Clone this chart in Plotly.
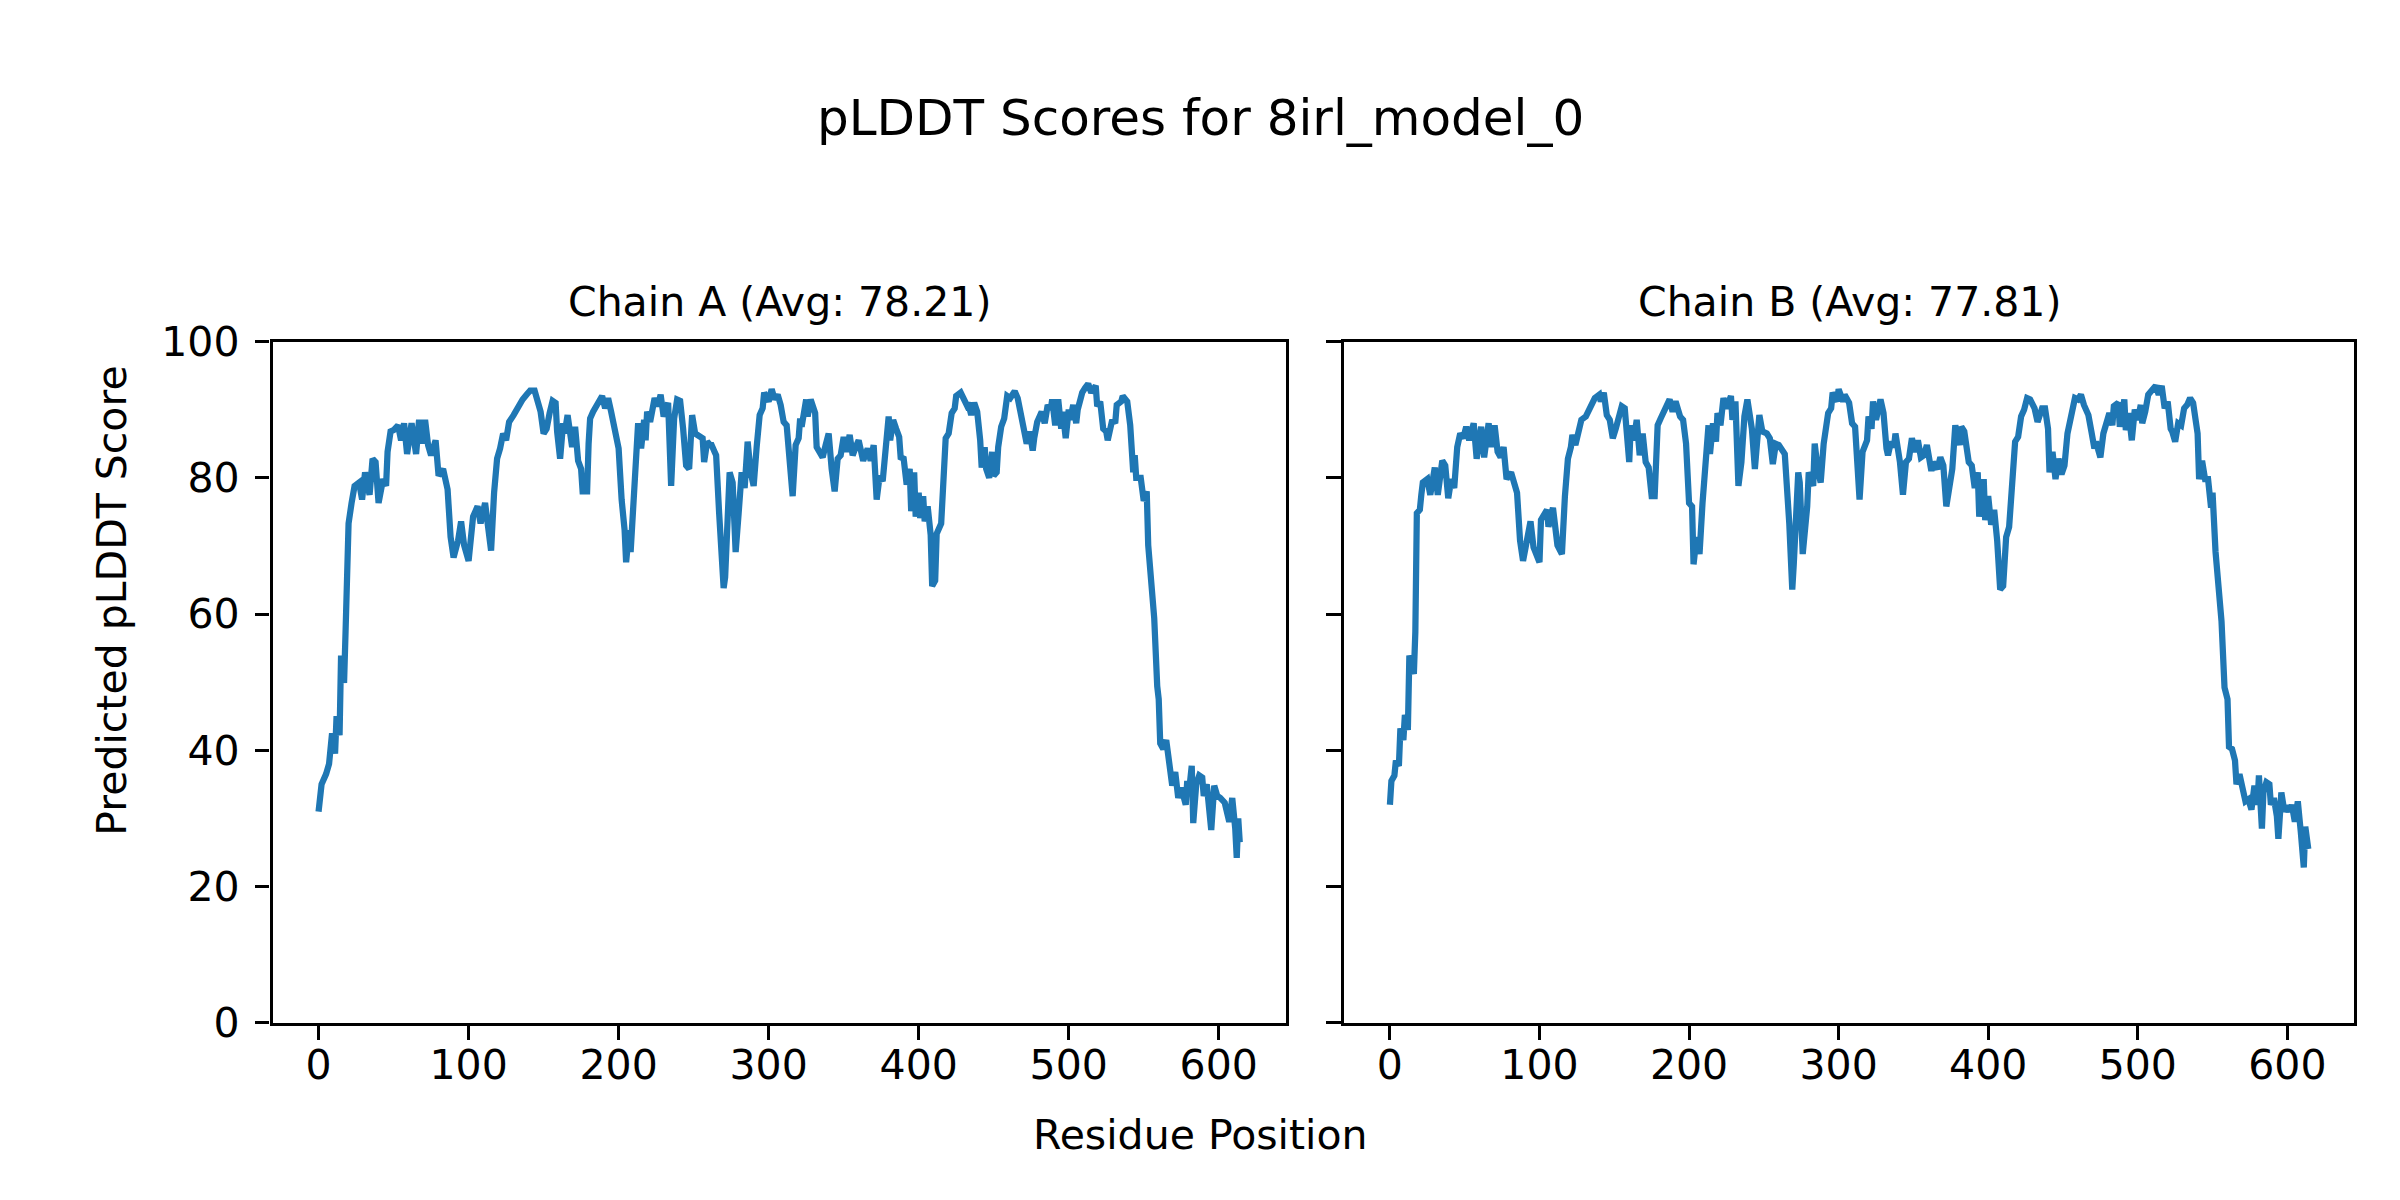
import plotly.graph_objects as go

# ---------------- data ----------------
chain_a_res = [0, 2, 5, 7, 9, 11, 12, 14, 15, 17, 18, 20, 22, 24, 27, 29, 31, 34, 36, 38,
               40, 43, 45, 46, 48, 50, 53, 55, 57, 59, 62, 65, 67, 69, 71, 73, 75, 78, 80, 83,
               86, 88, 90, 93, 95, 97, 100, 103, 106, 108, 111, 114, 115, 117, 119, 121, 123, 125, 127, 130,
               133, 136, 139, 141, 144, 146, 148, 150, 152, 154, 156, 158, 159, 161, 163, 164, 166, 169, 171, 173,
               175, 176, 179, 180, 181, 183, 186, 189, 191, 193, 195, 198, 200, 202, 204, 205, 207, 208, 210, 212,
               213, 215, 217, 218, 219, 221, 224, 226, 228, 230, 233, 235, 237, 239, 241, 243, 245, 247, 249, 251,
               253, 256, 257, 259, 261, 262, 264, 265, 267, 270, 271, 274, 276, 278, 280, 282, 284, 286, 288, 290,
               292, 294, 296, 297, 300, 302, 304, 306, 308, 310, 312, 314, 316, 318, 320, 321, 322, 325, 326, 328,
               331, 332, 334, 336, 338, 340, 342, 344, 346, 348, 350, 352, 354, 356, 358, 360, 363, 366, 368, 370,
               372, 374, 376, 378, 380, 381, 383, 385, 387, 388, 390, 392, 394, 395, 397, 398, 400, 401, 403, 404,
               406, 408, 409, 411, 412, 415, 416, 418, 420, 422, 424, 425, 428, 430, 432, 433, 435, 437, 439, 441,
               442, 444, 445, 447, 449, 450, 452, 453, 455, 457, 459, 461, 464, 466, 468, 470, 472, 474, 476, 477,
               479, 482, 484, 486, 488, 489, 491, 493, 495, 496, 498, 500, 501, 503, 505, 506, 509, 511, 513, 515,
               518, 519, 521, 523, 525, 526, 529, 531, 532, 535, 536, 539, 541, 543, 544, 545, 548, 550, 552, 553,
               555, 557, 559, 560, 561, 563, 565, 567, 569, 571, 573, 575, 578, 579, 580, 582, 583, 585, 587, 589,
               590, 592, 594, 595, 597, 599, 601, 604, 607, 609, 611, 612, 613, 614]
chain_a_plddt = [31.0, 35.0, 36.5, 38.0, 42.5, 39.5, 45.0, 42.2, 53.9, 49.9, 57.4, 73.3, 76.3, 78.8, 79.3, 76.8, 80.8, 77.5, 82.8, 82.3,
                 76.3, 79.8, 78.8, 83.8, 86.8, 87.0, 87.7, 85.5, 88.0, 83.5, 88.0, 83.5, 88.5, 85.0, 88.5, 84.8, 83.3, 85.5, 80.3, 81.3,
                 78.3, 71.3, 68.3, 70.8, 73.6, 70.1, 67.8, 74.3, 75.8, 73.3, 76.3, 70.3, 69.3, 77.8, 82.8, 84.3, 86.5, 85.5, 88.2, 89.2,
                 90.5, 91.5, 92.3, 92.8, 92.8, 91.5, 89.7, 86.5, 87.2, 89.5, 91.3, 91.0, 86.8, 82.8, 88.0, 86.5, 89.2, 84.5, 87.5, 82.5,
                 81.3, 78.0, 78.0, 85.0, 88.7, 89.7, 91.0, 92.0, 90.2, 91.7, 89.7, 85.8, 84.3, 76.8, 72.3, 67.6, 72.3, 69.1, 76.1, 82.8,
                 88.0, 84.3, 88.5, 85.5, 89.7, 88.2, 91.7, 90.5, 92.2, 89.0, 91.0, 78.8, 88.7, 91.5, 91.3, 87.2, 81.8, 81.3, 89.2, 86.5,
                 86.3, 85.8, 82.3, 85.3, 84.8, 84.8, 83.8, 83.3, 74.8, 63.8, 65.4, 80.8, 79.3, 69.1, 74.8, 80.8, 78.5, 85.3, 80.8, 78.8,
                 84.5, 89.2, 90.2, 92.5, 91.2, 93.0, 91.5, 92.2, 90.7, 88.2, 87.7, 83.3, 77.3, 84.8, 85.8, 88.7, 87.5, 91.5, 89.0, 91.5,
                 89.5, 84.5, 83.8, 83.0, 84.8, 86.5, 81.3, 78.0, 82.8, 83.3, 86.0, 83.8, 86.3, 83.3, 84.5, 85.5, 82.5, 84.3, 82.5, 84.8,
                 76.8, 80.3, 79.5, 83.8, 89.0, 85.5, 88.5, 87.2, 86.0, 83.0, 82.8, 79.0, 81.3, 75.1, 80.8, 74.3, 77.8, 74.1, 77.3, 73.6,
                 75.8, 71.6, 64.1, 64.9, 71.8, 73.3, 78.3, 85.8, 86.5, 89.5, 90.2, 92.0, 92.5, 91.5, 90.7, 91.0, 89.2, 91.0, 89.7, 85.5,
                 81.5, 84.5, 81.3, 80.0, 83.8, 80.3, 80.8, 84.5, 87.5, 88.7, 92.0, 91.7, 92.7, 91.7, 89.7, 87.2, 85.0, 86.8, 84.0, 85.8,
                 88.2, 89.7, 88.0, 90.7, 90.0, 91.5, 87.7, 91.5, 87.2, 89.7, 85.8, 90.0, 88.5, 90.7, 88.0, 90.0, 92.5, 93.2, 93.8, 92.5,
                 93.5, 90.5, 91.2, 87.2, 86.8, 85.5, 88.5, 88.0, 90.7, 91.2, 92.0, 91.2, 87.7, 80.8, 83.3, 80.0, 80.0, 76.6, 78.0, 70.1,
                 64.1, 59.4, 49.4, 47.5, 41.0, 40.2, 41.5, 37.5, 34.8, 36.8, 33.0, 34.5, 32.0, 35.5, 33.5, 37.7, 29.3, 35.0, 36.3, 36.0,
                 33.3, 35.0, 31.0, 28.3, 34.8, 33.3, 33.0, 32.3, 29.5, 33.0, 28.5, 24.2, 30.0, 26.5]

chain_b_res = [0, 1, 3, 4, 6, 7, 9, 10, 12, 13, 16, 17, 18, 20, 21, 22, 25, 27, 30, 32,
               35, 37, 39, 41, 43, 45, 47, 49, 51, 53, 56, 58, 61, 63, 66, 68, 70, 72, 74, 76,
               78, 81, 85, 87, 89, 91, 94, 96, 100, 101, 105, 106, 109, 112, 115, 117, 119, 121, 122, 124,
               126, 128, 131, 134, 137, 140, 141, 143, 145, 147, 149, 151, 154, 155, 157, 159, 160, 161, 163, 165,
               167, 169, 171, 173, 175, 177, 179, 181, 184, 187, 189, 191, 194, 196, 198, 200, 202, 203, 205, 207,
               209, 211, 213, 214, 216, 218, 219, 221, 223, 225, 228, 229, 231, 233, 235, 237, 239, 242, 244, 247,
               249, 252, 254, 256, 258, 260, 263, 264, 267, 269, 270, 273, 274, 276, 279, 280, 283, 284, 286, 288,
               290, 293, 295, 296, 299, 300, 303, 304, 307, 309, 311, 312, 314, 316, 319, 320, 322, 323, 325, 328,
               330, 332, 333, 335, 337, 338, 341, 343, 345, 347, 349, 351, 353, 355, 357, 359, 362, 363, 366, 368,
               370, 372, 374, 376, 378, 381, 382, 384, 387, 389, 391, 393, 394, 397, 398, 400, 402, 404, 406, 408,
               410, 412, 414, 416, 418, 420, 422, 424, 426, 428, 431, 433, 436, 438, 440, 441, 443, 445, 447, 449,
               451, 453, 455, 458, 460, 462, 464, 467, 469, 471, 472, 475, 477, 479, 481, 483, 484, 487, 488, 491,
               492, 494, 496, 498, 500, 502, 503, 505, 507, 510, 512, 514, 516, 518, 520, 522, 523, 525, 527, 529,
               531, 533, 535, 537, 540, 541, 543, 545, 547, 549, 550, 552, 554, 556, 558, 560, 561, 563, 565, 566,
               568, 570, 572, 574, 576, 578, 580, 581, 583, 584, 586, 588, 589, 591, 593, 594, 596, 598, 600, 602,
               603, 605, 607, 609, 611, 612, 614]
chain_b_plddt = [32.0, 35.5, 36.3, 38.5, 37.7, 43.2, 41.5, 45.2, 43.0, 53.9, 51.2, 57.4, 74.8, 75.3, 77.5, 79.3, 79.8, 77.5, 81.5, 77.5,
                 82.5, 81.8, 77.0, 79.8, 78.5, 84.5, 86.5, 85.8, 87.5, 85.5, 88.0, 82.8, 87.5, 83.0, 88.0, 84.5, 87.7, 83.8, 83.0, 84.5,
                 79.8, 80.8, 77.8, 70.8, 67.8, 70.1, 73.6, 69.8, 67.6, 73.8, 75.3, 72.8, 75.6, 70.1, 68.8, 77.3, 82.8, 84.5, 86.3, 84.8,
                 87.2, 88.5, 89.0, 90.5, 91.7, 92.2, 91.2, 92.5, 89.2, 88.5, 85.8, 87.2, 89.7, 90.5, 90.2, 83.3, 82.3, 87.7, 85.5, 88.5,
                 83.3, 86.5, 82.3, 81.5, 77.3, 77.3, 87.7, 88.7, 90.0, 91.5, 89.7, 91.2, 89.0, 88.5, 85.0, 76.3, 75.8, 67.3, 71.3, 68.8,
                 76.3, 83.8, 87.7, 83.5, 88.0, 85.3, 89.5, 87.7, 91.7, 90.2, 92.0, 88.5, 91.2, 78.8, 82.3, 89.0, 91.5, 87.2, 81.3, 89.2,
                 86.8, 86.5, 85.8, 82.0, 85.0, 84.8, 83.8, 83.5, 73.3, 63.6, 67.3, 80.8, 79.3, 68.8, 75.8, 80.8, 78.8, 85.0, 81.3, 79.3,
                 85.0, 89.5, 90.2, 92.5, 91.2, 93.0, 91.2, 92.2, 91.0, 88.0, 87.5, 83.3, 76.8, 83.8, 85.5, 89.0, 87.2, 91.2, 88.5, 91.5,
                 89.5, 84.3, 83.3, 85.3, 84.5, 86.5, 82.3, 77.5, 82.3, 82.8, 85.8, 83.8, 85.5, 83.0, 83.3, 84.8, 81.0, 82.3, 81.3, 83.0,
                 81.8, 75.8, 78.3, 81.3, 87.7, 84.8, 87.5, 86.8, 82.3, 81.8, 78.5, 80.8, 74.3, 79.8, 73.8, 77.3, 73.1, 75.3, 70.8, 63.6,
                 64.1, 71.3, 72.8, 78.3, 85.3, 86.0, 89.0, 90.0, 91.7, 91.5, 90.2, 88.2, 90.2, 90.2, 87.2, 80.8, 83.8, 79.8, 82.8, 80.5,
                 81.8, 86.5, 88.7, 91.7, 91.5, 92.2, 90.7, 89.2, 86.8, 84.3, 85.3, 83.0, 86.5, 88.5, 89.5, 87.7, 90.5, 91.0, 87.5, 91.5,
                 87.0, 89.5, 85.5, 90.0, 88.5, 90.7, 88.0, 89.7, 92.2, 93.0, 93.5, 92.2, 93.5, 90.2, 91.2, 87.2, 86.8, 85.3, 88.0, 87.7,
                 90.2, 90.7, 91.7, 91.0, 86.5, 79.8, 82.5, 79.8, 79.8, 75.6, 77.8, 69.1, 63.1, 58.9, 49.2, 47.5, 40.5, 40.2, 38.5, 35.0,
                 36.5, 34.0, 32.5, 32.8, 31.3, 34.8, 32.0, 36.3, 28.5, 33.8, 35.3, 35.0, 32.0, 33.0, 30.3, 27.0, 33.8, 31.0, 31.8, 31.0,
                 32.0, 29.5, 32.5, 28.0, 22.8, 28.8, 25.5]

chain_names = ["Chain A", "Chain B"]
chain_avgs = [78.21, 77.81]
fig_title = "pLDDT Scores for 8irl_model_0"
x_label = "Residue Position"
y_label = "Predicted pLDDT Score"
x_ticks = [0, 100, 200, 300, 400, 500, 600]
y_ticks = [0, 20, 40, 60, 80, 100]

# ---------------- figure ----------------
W, H = 2400, 1200
FONT = "DejaVu Sans"
LINE_COLOR = "#1f77b4"
TICK_SIZE = 41
SPINE = 3.3

fig = go.Figure()
fig.add_trace(go.Scatter(x=chain_a_res, y=chain_a_plddt, mode="lines",
                         line=dict(color=LINE_COLOR, width=6.25), xaxis="x", yaxis="y",
                         showlegend=False, hoverinfo="x+y"))
fig.add_trace(go.Scatter(x=chain_b_res, y=chain_b_plddt, mode="lines",
                         line=dict(color=LINE_COLOR, width=6.25), xaxis="x2", yaxis="y2",
                         showlegend=False, hoverinfo="x+y"))

axis_common = dict(showline=True, linewidth=SPINE, linecolor="black", mirror=True,
                   ticks="outside", ticklen=14.6, tickwidth=SPINE, tickcolor="black",
                   showgrid=False, zeroline=False,
                   tickfont=dict(family=FONT, size=TICK_SIZE, color="black"))

y_dom = [0.140, 0.7313]
xa_dom = [264.5 / W, 1277.8 / W]
xb_dom = [1336.0 / W, 2346.2 / W]
x_range = [-30.7, 644.7]

fig.update_layout(
    width=W, height=H,
    margin=dict(l=0, r=0, t=0, b=0),
    paper_bgcolor="white", plot_bgcolor="white",
    font=dict(family=FONT, color="black"),
    xaxis=dict(domain=xa_dom, range=x_range, tickvals=x_ticks, anchor="y",
               ticklabelstandoff=-11, **axis_common),
    yaxis=dict(domain=y_dom, range=[0, 100], tickvals=y_ticks, anchor="x",
               ticklabelstandoff=7, **axis_common),
    xaxis2=dict(domain=xb_dom, range=x_range, tickvals=x_ticks, anchor="y2",
                ticklabelstandoff=-11, **axis_common),
    yaxis2=dict(domain=y_dom, range=[0, 100], tickvals=y_ticks, anchor="x2",
                showticklabels=False, **axis_common),
)

cx = 0.5 - 8 / W
annotations = [
    dict(text=fig_title, x=cx, y=0.925, xref="paper", yref="paper",
         xanchor="center", yanchor="middle", showarrow=False,
         font=dict(family=FONT, size=50, color="black")),
    dict(text=x_label, x=cx, y=0.0425, xref="paper", yref="paper",
         xanchor="center", yanchor="middle", showarrow=False,
         font=dict(family=FONT, size=41, color="black")),
    dict(text=y_label, x=103.7 / W, y=0.506, xref="paper", yref="paper",
         xanchor="center", yanchor="middle", showarrow=False, textangle=-90,
         font=dict(family=FONT, size=41, color="black")),
]
for name, avg, dom in zip(chain_names, chain_avgs, [xa_dom, xb_dom]):
    annotations.append(dict(text=f"{name} (Avg: {avg:.2f})", x=(dom[0] + dom[1]) / 2,
                            y=0.7658, xref="paper", yref="paper",
                            xanchor="center", yanchor="middle", showarrow=False,
                            font=dict(family=FONT, size=41, color="black")))
fig.update_layout(annotations=annotations)

fig.write_html("out.html")
